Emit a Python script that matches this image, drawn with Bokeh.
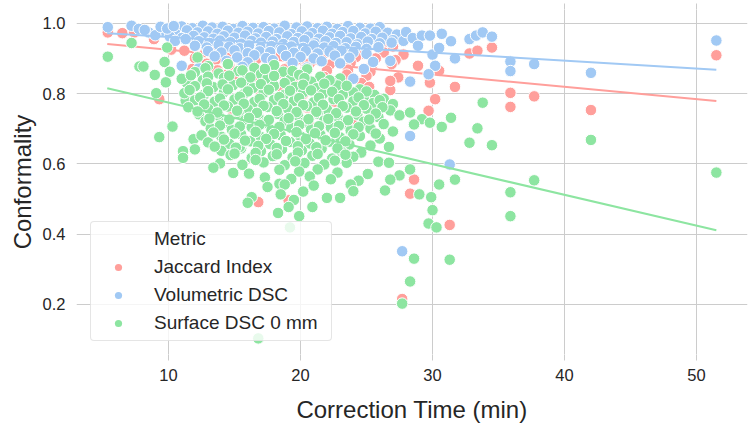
from bokeh.plotting import figure
from bokeh.models import (FixedTicker, PrintfTickFormatter, Legend, LegendItem,
                          ColumnDataSource, Range1d, LinearAxis)
from bokeh.embed import file_html
from bokeh.resources import INLINE

# ---------------- data ----------------
x_ticks = [10, 20, 30, 40, 50]
y_ticks = [0.2, 0.4, 0.6, 0.8, 1.0]
metric_names = ["Jaccard Index", "Volumetric DSC", "Surface DSC 0 mm"]
metric_colors = ["#ff9f9b", "#a1c9f4", "#8de5a1"]

# Volumetric DSC
vol_time = [
    11.0, 11.8, 12.6, 13.3, 14.1, 14.9, 15.6, 16.4, 17.2, 18.0, 18.8, 19.7, 20.5, 21.3, 22.0, 22.8, 23.6, 24.5, 25.3, 26.0,
    9.6, 10.5, 11.4, 12.2, 13.0, 13.7, 14.5, 15.3, 16.0, 16.8, 17.6, 18.4, 19.3, 20.1, 20.9, 21.7, 22.4, 23.2, 24.0, 24.9, 25.7, 26.6, 27.3,
    10.1, 11.0, 11.9, 12.7, 13.4, 14.2, 15.0, 15.8, 16.6, 17.4, 18.2, 19.0, 19.8, 20.6, 21.4, 22.2, 23.0, 23.8, 24.6, 25.4, 26.2, 27.0,
    12.3, 13.1, 13.9, 14.7, 15.5, 16.3, 17.0, 17.9, 18.7, 19.5, 20.3, 21.1, 21.9, 22.7, 23.5, 24.3, 25.1, 26.0, 26.9, 27.8,
    12.0, 12.9, 13.8, 14.6, 15.4, 16.1, 17.0, 17.8, 18.5, 19.3, 20.2, 21.0, 21.8, 22.5, 23.4, 24.2, 25.0, 25.9,
    13.0, 14.0, 15.0, 16.0, 16.9, 17.7, 18.6, 19.5, 20.4, 21.3, 22.2, 23.1, 24.0, 25.0,
    13.5, 15.2, 16.5, 17.4, 18.9, 20.0, 21.0, 22.6, 23.7,
    14.4, 16.0, 17.9, 19.4, 21.6, 23.0, 25.5,
    12.3, 15.6, 17.6, 20.5, 24.8,
    5.4, 7.2, 7.75, 8.5, 8.2, 9.0, 9.4, 9.9, 10.4, 10.5, 11.3, 11.0,
    28.0, 28.5, 29.2, 29.8, 30.7, 31.4, 32.8, 33.3, 33.8, 34.5, 28.9, 30.0, 30.5, 31.7, 30.2, 29.7, 28.3, 26.8, 35.9, 35.9, 37.7, 42.0, 51.5,
    19.0, 20.0, 20.8, 24.0, 28.6, 28.3, 31.3, 27.7,
]
vol_dsc = [
    0.991, 0.986, 0.993, 0.988, 0.990, 0.984, 0.992, 0.987, 0.989, 0.985, 0.993, 0.988, 0.991, 0.986, 0.990, 0.984, 0.992, 0.987, 0.985, 0.989,
    0.978, 0.972, 0.980, 0.974, 0.977, 0.970, 0.979, 0.973, 0.976, 0.971, 0.978, 0.974, 0.969, 0.977, 0.972, 0.979, 0.970, 0.975, 0.978, 0.971, 0.976, 0.973, 0.968,
    0.962, 0.958, 0.964, 0.960, 0.956, 0.963, 0.959, 0.965, 0.957, 0.961, 0.955, 0.963, 0.958, 0.962, 0.956, 0.960, 0.964, 0.957, 0.961, 0.955, 0.959, 0.952,
    0.949, 0.944, 0.951, 0.946, 0.942, 0.950, 0.945, 0.948, 0.941, 0.947, 0.952, 0.943, 0.949, 0.944, 0.946, 0.940, 0.948, 0.943, 0.945, 0.950,
    0.936, 0.931, 0.938, 0.933, 0.929, 0.937, 0.932, 0.935, 0.928, 0.934, 0.930, 0.937, 0.931, 0.935, 0.929, 0.933, 0.927, 0.932,
    0.921, 0.917, 0.923, 0.915, 0.920, 0.918, 0.924, 0.916, 0.921, 0.914, 0.919, 0.922, 0.917, 0.913,
    0.906, 0.903, 0.909, 0.901, 0.907, 0.904, 0.900, 0.908, 0.902,
    0.893, 0.889, 0.895, 0.887, 0.892, 0.886, 0.890,
    0.872, 0.876, 0.868, 0.874, 0.870,
    0.989, 0.993, 0.984, 0.974, 0.981, 0.966, 0.990, 0.985, 0.992, 0.950, 0.955, 0.879,
    0.975, 0.958, 0.965, 0.965, 0.970, 0.949, 0.955, 0.965, 0.974, 0.962, 0.936, 0.911, 0.930, 0.900, 0.879, 0.855, 0.834, 0.893, 0.891, 0.864, 0.884, 0.859, 0.951,
    0.846, 0.817, 0.830, 0.842, 0.713, 0.679, 0.598, 0.351,
]

# Jaccard Index
jac_time = [
    6.5, 9.5, 11.5, 13.5, 15.5, 17.5, 19.5, 21.5, 23.5, 25.5,
    8.9, 10.5, 12.5, 14.5, 16.5, 18.5, 20.5, 22.5, 24.5, 26.5,
    11.2, 13.2, 15.0, 17.0, 19.0, 21.0, 23.0, 25.0, 27.0,
    12.8, 14.3, 15.8, 17.3, 18.8, 20.3, 21.8, 23.3, 24.8, 26.3, 27.8, 10.2,
    12.0, 13.6, 15.2, 16.7, 18.1, 19.7, 21.2, 22.7, 24.2, 25.7, 27.2,
    12.9, 14.6, 16.2, 17.8, 19.2, 20.7, 22.2, 23.8, 25.4, 26.9,
    11.8, 13.7, 15.5, 17.2, 18.8, 20.4, 22.0, 23.6, 25.3,
    14.4, 16.4, 18.2, 20.0, 21.8, 23.5, 25.0, 27.4,
    15.0, 17.6, 19.6, 22.4, 24.6, 26.8,
    16.0, 18.6, 21.0, 25.2,
    17.0, 20.2, 23.8,
    9.3, 18.0, 22.6, 22.5,
    5.4, 7.4, 8.9, 20.5, 14.9, 14.0, 16.8, 19.1, 20.9, 23.9, 28.6, 28.3, 31.3, 27.7,
    28.9, 29.8, 30.5, 31.7, 32.8, 33.4, 34.5, 30.2, 29.7, 26.8, 26.8, 25.2, 35.9, 35.9, 37.7, 42.0, 51.5,
]
jaccard = [
    0.972, 0.976, 0.970, 0.978, 0.968, 0.974, 0.971, 0.977, 0.969, 0.973,
    0.955, 0.951, 0.957, 0.949, 0.954, 0.958, 0.950, 0.953, 0.956, 0.948,
    0.922, 0.936, 0.931, 0.938, 0.933, 0.929, 0.937, 0.932, 0.934,
    0.918, 0.914, 0.920, 0.916, 0.912, 0.919, 0.915, 0.921, 0.913, 0.917, 0.911, 0.925,
    0.901, 0.897, 0.903, 0.899, 0.905, 0.896, 0.902, 0.898, 0.904, 0.900, 0.895,
    0.885, 0.881, 0.887, 0.883, 0.879, 0.886, 0.882, 0.888, 0.880, 0.884,
    0.870, 0.866, 0.871, 0.864, 0.869, 0.873, 0.865, 0.868, 0.862,
    0.853, 0.849, 0.855, 0.851, 0.847, 0.854, 0.850, 0.846,
    0.836, 0.832, 0.838, 0.834, 0.830, 0.836,
    0.819, 0.815, 0.821, 0.819,
    0.802, 0.798, 0.805,
    0.784, 0.781, 0.777, 0.789,
    0.974, 0.974, 0.955, 0.760, 0.742, 0.655, 0.491, 0.496, 0.703, 0.727, 0.555, 0.515, 0.426, 0.215,
    0.879, 0.831, 0.865, 0.819, 0.914, 0.922, 0.931, 0.784, 0.751, 0.810, 0.836, 0.819, 0.802, 0.762, 0.792, 0.753, 0.909,
]

# Surface DSC 0 mm
surf_time = [
    5.4, 7.2, 7.8, 8.1, 9.9, 12.2, 8.96, 9.07, 9.3, 10.3, 11.9, 9.7, 10.1, 9.8, 11.4, 11.5, 11.3, 11.1, 11.1,
    13.0, 14.5, 16.5, 18.0, 20.5,
    12.0, 13.8, 15.3, 17.0, 18.7, 21.5, 23.0,
    11.0, 12.6, 14.2, 15.8, 17.5, 19.2, 20.8, 22.4, 24.5,
    12.0, 13.4, 14.9, 16.4, 18.0, 19.6, 21.2, 22.8, 24.0, 25.6,
    11.2, 12.7, 14.2, 15.7, 17.2, 18.7, 20.2, 21.7, 23.2, 24.8, 26.3,
    12.0, 13.5, 15.0, 16.5, 18.0, 19.5, 21.0, 22.5, 24.0, 25.5, 27.0,
    11.5, 13.0, 14.5, 16.0, 17.5, 19.0, 20.5, 22.0, 23.5, 25.0, 26.8,
    12.3, 13.8, 15.3, 16.8, 18.3, 19.8, 21.3, 22.8, 24.3, 25.9, 27.5,
    12.8, 14.3, 15.8, 17.3, 18.8, 20.3, 21.8, 23.3, 24.8, 26.3,
    13.2, 14.8, 16.3, 17.8, 19.3, 20.8, 22.3, 23.8, 25.3, 27.0,
    12.5, 14.0, 15.5, 17.0, 18.5, 20.0, 21.5, 23.0, 24.5, 26.0,
    13.0, 14.6, 16.2, 17.7, 19.2, 20.7, 22.2, 23.7, 25.3,
    12.0, 14.0, 15.5, 17.0, 18.6, 20.1, 21.6, 23.1, 24.6,
    14.7, 16.3, 17.9, 19.4, 20.9, 22.4, 24.0, 15.4,
    13.9, 15.6, 17.2, 18.8, 20.3, 21.8, 23.5, 25.9,
    13.4, 14.9, 16.1, 18.4, 19.9, 21.3, 22.8, 25.1,
    17.3, 19.3, 20.7, 22.3, 24.4,
    17.5, 18.4, 18.8, 21.0, 23.8,
    16.3, 18.5, 20.2, 22.0, 24.0,
    16.0, 19.5, 23.0,
    19.1, 20.9, 19.9,
    18.3, 19.2, 16.8,
    33.8, 31.4, 30.7, 33.4, 32.8, 34.5, 29.2, 29.8, 28.3, 28.6, 26.7, 27.5, 26.8, 26.4, 25.1, 25.9, 26.7,
    28.3, 29.0, 29.9, 30.0, 29.7, 30.3, 31.3, 28.6, 28.3, 27.7, 30.5, 31.7, 35.9, 35.9, 37.7, 42.0, 51.5,
    12.8, 15.6, 17.3, 19.4,
    11.7, 13.0, 14.6, 16.2, 18.0, 19.9, 20.3, 22.2,
    12.9, 14.1, 15.5, 17.0, 18.8, 20.2, 21.8, 23.5,
    11.6, 13.0, 14.5, 16.0, 17.6, 19.2, 20.8, 22.4, 25.0,
    12.4, 13.9, 15.4, 16.9, 18.4, 19.9, 21.4, 22.9, 24.4, 26.0,
    12.7, 14.2, 15.7, 17.2, 18.7, 20.2, 21.7, 23.2, 24.8, 26.2,
    12.2, 13.7, 15.2, 16.7, 18.2, 19.7, 21.2, 22.7, 24.2, 25.7,
    13.1, 14.6, 16.1, 17.6, 19.1, 20.6, 22.1, 23.6, 25.2,
    13.9, 15.4, 16.9, 18.4, 19.9, 21.4, 22.9, 24.4,
    13.4, 15.0, 16.6, 18.0, 19.7, 21.1, 22.6, 24.0, 25.7,
    14.2, 15.8, 17.4, 18.9, 20.4, 21.9, 23.4,
    13.5, 15.1, 16.8, 18.2, 19.8, 21.2, 22.8,
    15.0, 16.6, 18.2, 19.8, 21.3, 23.4,
    16.6, 19.6, 22.6,
]
surface_dsc = [
    0.905, 0.944, 0.877, 0.877, 0.931, 0.903, 0.853, 0.801, 0.676, 0.706, 0.670, 0.890, 0.862, 0.832, 0.830, 0.800, 0.780, 0.636, 0.617,
    0.878, 0.884, 0.873, 0.881, 0.869,
    0.861, 0.857, 0.864, 0.855, 0.862, 0.848, 0.843,
    0.842, 0.838, 0.845, 0.836, 0.843, 0.839, 0.834, 0.832, 0.812,
    0.821, 0.818, 0.824, 0.816, 0.822, 0.819, 0.815, 0.823, 0.803, 0.796,
    0.801, 0.797, 0.804, 0.798, 0.802, 0.795, 0.803, 0.799, 0.796, 0.790, 0.785,
    0.781, 0.777, 0.783, 0.776, 0.782, 0.779, 0.775, 0.784, 0.778, 0.773, 0.770,
    0.761, 0.757, 0.763, 0.756, 0.762, 0.758, 0.764, 0.755, 0.760, 0.757, 0.752,
    0.741, 0.737, 0.744, 0.736, 0.742, 0.738, 0.743, 0.735, 0.740, 0.733, 0.738,
    0.721, 0.717, 0.724, 0.716, 0.722, 0.718, 0.723, 0.715, 0.720, 0.713,
    0.701, 0.697, 0.704, 0.696, 0.702, 0.698, 0.703, 0.695, 0.700, 0.692,
    0.681, 0.677, 0.684, 0.676, 0.682, 0.678, 0.683, 0.675, 0.679, 0.672,
    0.661, 0.657, 0.664, 0.656, 0.662, 0.658, 0.663, 0.655, 0.652,
    0.641, 0.637, 0.644, 0.636, 0.642, 0.638, 0.643, 0.635, 0.632,
    0.625, 0.617, 0.622, 0.618, 0.623, 0.615, 0.620, 0.648,
    0.601, 0.597, 0.604, 0.596, 0.602, 0.598, 0.603, 0.606,
    0.589, 0.574, 0.572, 0.583, 0.578, 0.584, 0.575, 0.571,
    0.561, 0.557, 0.564, 0.556, 0.552,
    0.534, 0.543, 0.541, 0.538, 0.541,
    0.505, 0.513, 0.521, 0.503, 0.522,
    0.489, 0.497, 0.503,
    0.477, 0.477, 0.451,
    0.460, 0.419, 0.103,
    0.774, 0.731, 0.705, 0.701, 0.660, 0.653, 0.727, 0.717, 0.746, 0.712, 0.648, 0.567, 0.555, 0.524, 0.571, 0.606, 0.603,
    0.584, 0.513, 0.505, 0.468, 0.430, 0.419, 0.327, 0.330, 0.265, 0.202, 0.541, 0.555, 0.519, 0.451, 0.553, 0.668, 0.575,
    0.872, 0.866, 0.870, 0.864,
    0.852, 0.848, 0.851, 0.846, 0.850, 0.853, 0.844, 0.838,
    0.829, 0.826, 0.831, 0.827, 0.830, 0.825, 0.828, 0.822,
    0.810, 0.807, 0.812, 0.806, 0.811, 0.808, 0.809, 0.805, 0.806,
    0.789, 0.786, 0.791, 0.785, 0.790, 0.787, 0.788, 0.784, 0.789, 0.781,
    0.769, 0.766, 0.771, 0.765, 0.770, 0.767, 0.768, 0.764, 0.767, 0.761,
    0.749, 0.746, 0.751, 0.745, 0.750, 0.747, 0.748, 0.744, 0.749, 0.743,
    0.729, 0.726, 0.731, 0.725, 0.730, 0.727, 0.728, 0.724, 0.726,
    0.709, 0.706, 0.711, 0.705, 0.710, 0.707, 0.708, 0.704,
    0.689, 0.686, 0.691, 0.685, 0.690, 0.687, 0.688, 0.684, 0.686,
    0.669, 0.666, 0.671, 0.665, 0.670, 0.667, 0.664,
    0.649, 0.646, 0.651, 0.645, 0.650, 0.647, 0.644,
    0.629, 0.631, 0.627, 0.632, 0.628, 0.626,
    0.611, 0.607, 0.609,
]

# regression lines (end points)
fit_time = [5.36, 51.5]
fit_jaccard = [0.941, 0.779]
fit_volumetric = [0.9715, 0.868]
fit_surface = [0.815, 0.411]

# ---------------- figure ----------------
FONT = "Liberation Sans"
TEXT = "#262626"
GRID = "#cccccc"

p = figure(width=749, height=428, output_backend="svg", toolbar_location=None,
           x_range=Range1d(3.03, 53.86), y_range=Range1d(0.0571, 1.0393),
           min_border_left=76, min_border_right=2, min_border_top=9,
           min_border_bottom=74)
p.outline_line_color = None
p.background_fill_color = "white"

series = [
    (jac_time, jaccard, fit_jaccard),
    (vol_time, vol_dsc, fit_volumetric),
    (surf_time, surface_dsc, fit_surface),
]
for (xs, ys, fit), col in zip(series, metric_colors):
    src = ColumnDataSource(dict(x=xs, y=ys))
    p.scatter("x", "y", source=src, size=11.5, fill_color=col, fill_alpha=1.0,
              line_color="white", line_width=1)
    p.line(fit_time, fit, line_color=col, line_width=2)

# axes
p.xaxis.ticker = FixedTicker(ticks=x_ticks)
p.yaxis.ticker = FixedTicker(ticks=y_ticks)
p.xgrid.ticker = FixedTicker(ticks=x_ticks)
p.ygrid.ticker = FixedTicker(ticks=y_ticks)
p.yaxis.formatter = PrintfTickFormatter(format="%.1f")
p.xaxis.formatter = PrintfTickFormatter(format="%d")
for g in (p.xgrid, p.ygrid):
    g.grid_line_color = GRID
    g.grid_line_width = 1

for ax in (p.xaxis, p.yaxis):
    ax.axis_line_color = None
    ax.minor_tick_line_color = None
    ax.major_label_text_font = FONT
    ax.major_label_text_font_size = "16.5px"
    ax.major_label_text_color = TEXT
    ax.axis_label_text_font = FONT
    ax.axis_label_text_font_size = "24px"
    ax.axis_label_text_font_style = "normal"
    ax.axis_label_text_color = TEXT

p.xaxis.major_tick_line_color = GRID
p.xaxis.major_tick_in = 0
p.xaxis.major_tick_out = 6
p.xaxis.major_label_standoff = 8
p.xaxis.axis_label = "Correction Time (min)"
p.xaxis.axis_label_standoff = 12

p.yaxis.major_tick_line_color = None
p.yaxis.major_tick_in = 0
p.yaxis.major_tick_out = 0
p.yaxis.major_label_standoff = 11
p.yaxis.axis_label = "Conformality"
p.yaxis.axis_label_standoff = 4

# short grid-coloured stubs above the frame (no labels)
top_axis = LinearAxis(ticker=FixedTicker(ticks=x_ticks), axis_line_color=None,
                      major_tick_line_color=GRID, major_tick_in=0, major_tick_out=6,
                      minor_tick_line_color=None, major_label_text_font_size="1px",
                      major_label_text_alpha=0, major_label_standoff=0)
p.add_layout(top_axis, "above")

# legend (title drawn as an entry with an invisible marker, as in the source)
nan = float("nan")
title_r = p.scatter([nan], [nan], size=8, fill_alpha=0, line_alpha=0)
items = [LegendItem(label="Metric", renderers=[title_r])]
for name, col in zip(metric_names, metric_colors):
    r = p.scatter([nan], [nan], size=8, fill_color=col, line_color=None)
    items.append(LegendItem(label=name, renderers=[r]))

legend = Legend(items=items, location=(14, 13))
legend.label_text_font = FONT
legend.label_text_font_size = "19px"
legend.label_text_color = TEXT
legend.glyph_width = 42
legend.glyph_height = 18
legend.label_height = 22
legend.label_width = 171
legend.label_standoff = 15
legend.spacing = 6
legend.padding = 6
legend.margin = 0
legend.background_fill_color = "white"
legend.background_fill_alpha = 0.8
legend.border_line_color = GRID
legend.border_line_width = 1
if "border_radius" in Legend.properties():
    legend.border_radius = 4
p.add_layout(legend)

open("out.html", "w").write(file_html(p, INLINE))
